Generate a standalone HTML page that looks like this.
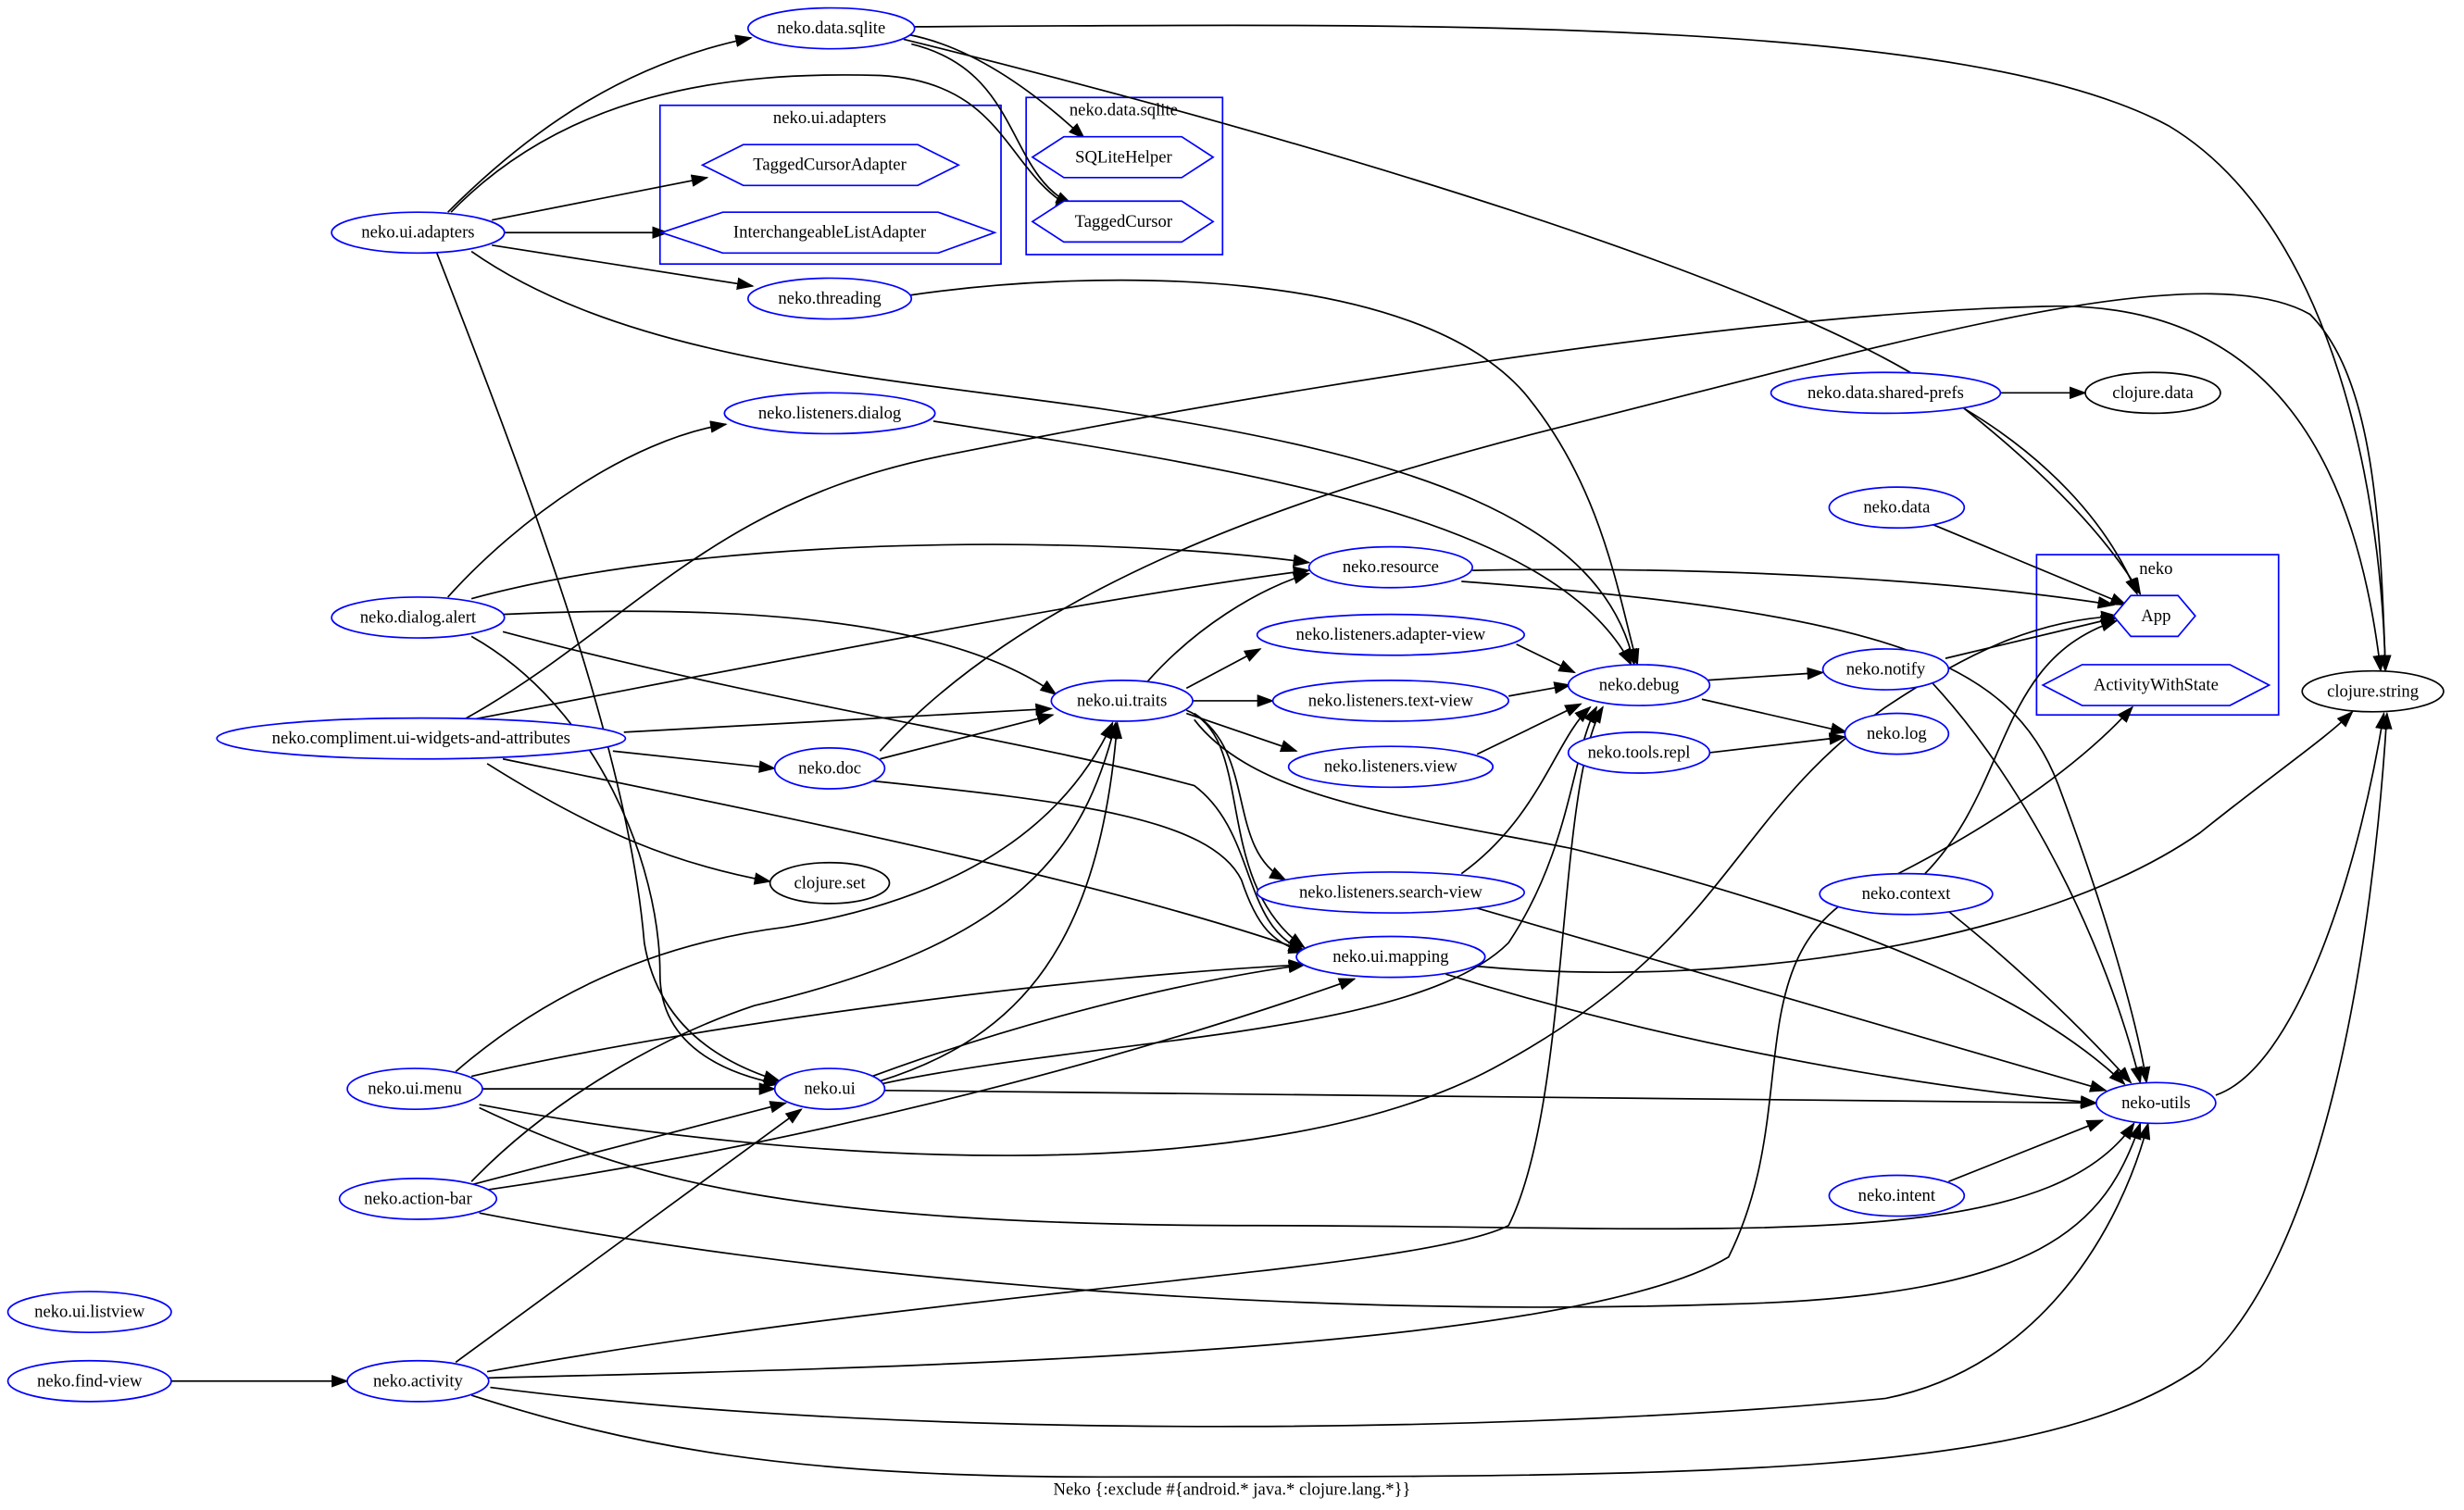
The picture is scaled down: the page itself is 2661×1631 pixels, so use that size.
<!DOCTYPE html>
<html><head><meta charset="utf-8"><style>
html,body{margin:0;padding:0;background:#fff;}
svg{display:block;}
text{font-family:"Liberation Serif",serif;font-size:11px;text-anchor:middle;dominant-baseline:central;fill:#000;}
.n{fill:#fff;stroke:#00f;stroke-width:1;}
.b{fill:#fff;stroke:#000;stroke-width:1;}
.c{fill:none;stroke:#00f;stroke-width:1;}
.e{fill:none;stroke:#000;stroke-width:1;marker-end:url(#a);}
</style></head><body>
<svg width="2661" height="1631" viewBox="0 0 1568 961" xmlns="http://www.w3.org/2000/svg">
<defs><marker id="a" markerUnits="userSpaceOnUse" markerWidth="11" markerHeight="8" refX="10" refY="4" orient="auto"><path d="M0,0 L11,4 L0,8 z" fill="#000"/></marker></defs>
<rect width="1568" height="961" fill="#fff"/>
<!-- clusters -->
<rect class="c" x="420" y="67" width="217" height="101"/><text x="528" y="75">neko.ui.adapters</text>
<rect class="c" x="653" y="62" width="125" height="100"/><text x="715" y="70">neko.data.sqlite</text>
<rect class="c" x="1296" y="353" width="154" height="102"/><text x="1372" y="362">neko</text>
<!-- edges -->
<path class="e" d="M582,17 C900,15 1250,10 1380,80 C1480,140 1515,300 1518,427"/>
<path class="e" d="M575,25 C800,80 1150,180 1250,260 C1300,300 1340,340 1362,378"/>
<path class="e" d="M578,22 C620,30 660,60 690,88"/>
<path class="e" d="M580,28 C650,45 640,110 682,130"/>
<path class="e" d="M285,135 C340,80 400,40 478,24"/>
<path class="e" d="M287,135 C360,60 460,45 560,48 C640,52 640,110 682,132"/>
<path class="e" d="M313,140 L450,113"/>
<path class="e" d="M320,148 L425,148"/>
<path class="e" d="M313,156 L479,182"/>
<path class="e" d="M300,160 C400,230 560,240 700,260 C900,290 1020,330 1040,423"/>
<path class="e" d="M278,161 C340,320 400,480 410,600 C420,660 470,680 496,688"/>
<path class="e" d="M578,188 C700,170 900,170 970,250 C1020,310 1030,380 1042,423"/>
<path class="e" d="M594,268 C800,300 990,330 1038,423"/>
<path class="e" d="M1273,250 L1327,250"/>
<path class="e" d="M1250,260 C1300,290 1340,330 1360,378"/>
<path class="e" d="M1228,333 L1353,385"/>
<path class="e" d="M285,380 C330,330 400,280 462,270"/>
<path class="e" d="M300,381 C450,340 700,340 833,358"/>
<path class="e" d="M320,391 C450,385 600,390 672,442"/>
<path class="e" d="M320,402 C500,450 650,470 760,500 C800,530 790,590 830,605"/>
<path class="e" d="M300,405 C380,450 420,550 420,620 C420,670 470,685 496,690"/>
<path class="e" d="M295,458 C400,400 450,320 600,290 C800,250 1100,200 1300,195 C1450,190 1500,300 1515,427"/>
<path class="e" d="M300,458 C500,420 700,380 833,363"/>
<path class="e" d="M397,466 L669,451"/>
<path class="e" d="M390,478 L493,489"/>
<path class="e" d="M310,486 C380,530 430,550 490,561"/>
<path class="e" d="M320,483 C500,520 700,560 830,605"/>
<path class="e" d="M560,483 L670,455"/>
<path class="e" d="M560,478 C650,380 800,320 1000,270 C1200,220 1400,160 1470,200 C1510,240 1515,330 1518,427"/>
<path class="e" d="M555,497 C680,510 770,520 790,560 C800,590 810,600 830,606"/>
<path class="e" d="M730,434 C760,400 800,375 833,365"/>
<path class="e" d="M755,438 L802,413"/>
<path class="e" d="M759,446 L810,446"/>
<path class="e" d="M755,454 L825,478"/>
<path class="e" d="M760,454 C800,480 780,540 818,560"/>
<path class="e" d="M755,452 C800,470 770,560 830,603"/>
<path class="e" d="M760,458 C800,510 900,520 1000,540 C1200,590 1300,640 1352,690"/>
<path class="e" d="M937,363 C1100,360 1250,370 1345,385"/>
<path class="e" d="M930,370 C1200,390 1280,420 1310,500 C1340,580 1360,650 1366,689"/>
<path class="e" d="M965,410 L1002,428"/>
<path class="e" d="M960,443 L999,436"/>
<path class="e" d="M940,480 L1006,448"/>
<path class="e" d="M930,556 C980,520 990,470 1012,450"/>
<path class="e" d="M940,578 L1340,694"/>
<path class="e" d="M1085,433 L1160,428"/>
<path class="e" d="M1083,445 L1175,466"/>
<path class="e" d="M1088,479 L1174,469"/>
<path class="e" d="M1238,419 L1347,393"/>
<path class="e" d="M1230,435 C1290,500 1340,600 1362,689"/>
<path class="e" d="M1225,556 C1280,500 1270,420 1347,395"/>
<path class="e" d="M1240,580 C1290,620 1330,660 1356,689"/>
<path class="e" d="M940,615 C1100,630 1300,600 1400,530 C1450,490 1480,470 1497,453"/>
<path class="e" d="M920,620 C1050,660 1200,690 1334,702"/>
<path class="e" d="M1410,697 C1460,680 1500,560 1517,454"/>
<path class="e" d="M1240,752 L1338,713"/>
<path class="e" d="M290,682 C350,630 420,600 500,590 C620,570 680,520 708,460"/>
<path class="e" d="M300,685 C450,650 700,620 830,614"/>
<path class="e" d="M307,693 L493,693"/>
<path class="e" d="M305,703 C500,740 800,760 950,680 C1100,600 1100,520 1200,450 C1260,410 1300,395 1347,392"/>
<path class="e" d="M305,705 C400,750 500,780 800,780 C1100,780 1300,800 1358,715"/>
<path class="e" d="M560,688 C650,660 700,600 711,460"/>
<path class="e" d="M555,685 C650,650 750,625 830,614"/>
<path class="e" d="M563,694 L1334,702"/>
<path class="e" d="M560,690 C700,660 900,660 960,600 C1000,540 1000,480 1016,450"/>
<path class="e" d="M300,754 L500,702"/>
<path class="e" d="M300,752 C350,700 420,660 480,640 C650,600 690,540 710,460"/>
<path class="e" d="M305,758 C500,730 700,680 862,623"/>
<path class="e" d="M305,772 C500,810 800,840 1100,830 C1300,825 1340,780 1362,715"/>
<path class="e" d="M109,879 L221,879"/>
<path class="e" d="M290,867 L510,706"/>
<path class="e" d="M310,873 C600,820 900,810 960,780 C1000,700 990,500 1020,450"/>
<path class="e" d="M310,877 C600,870 1000,860 1100,800 C1150,700 1100,600 1200,560 C1280,520 1330,480 1357,450"/>
<path class="e" d="M312,883 C600,920 1000,910 1200,890 C1300,870 1350,780 1367,715"/>
<path class="e" d="M300,888 C400,920 500,940 700,940 C1100,940 1300,940 1400,870 C1480,800 1510,600 1519,454"/>
<!-- hexagons -->
<polygon class="n" points="447,105 473,92 584,92 610,105 584,118 473,118"/><text x="528" y="105">TaggedCursorAdapter</text>
<polygon class="n" points="421,148 460,135 597,135 633,148 597,161 460,161"/><text x="528" y="148">InterchangeableListAdapter</text>
<polygon class="n" points="657,100 677,87 752,87 772,100 752,113 677,113"/><text x="715" y="100">SQLiteHelper</text>
<polygon class="n" points="657,141 677,128 752,128 772,141 752,154 677,154"/><text x="715" y="141">TaggedCursor</text>
<polygon class="n" points="1345,392 1356,379 1386,379 1397,392 1386,405 1356,405"/><text x="1372" y="392">App</text>
<polygon class="n" points="1300,436 1325,423 1419,423 1444,436 1419,449 1325,449"/><text x="1372" y="436">ActivityWithState</text>
<!-- nodes -->
<ellipse class="n" cx="529" cy="18" rx="53" ry="13"/><text x="529" y="18">neko.data.sqlite</text>
<ellipse class="n" cx="266" cy="148" rx="55" ry="13"/><text x="266" y="148">neko.ui.adapters</text>
<ellipse class="n" cx="528" cy="190" rx="52" ry="13"/><text x="528" y="190">neko.threading</text>
<ellipse class="n" cx="528" cy="263" rx="67" ry="13"/><text x="528" y="263">neko.listeners.dialog</text>
<ellipse class="n" cx="1200" cy="250" rx="73" ry="13"/><text x="1200" y="250">neko.data.shared-prefs</text>
<ellipse class="b" cx="1370" cy="250" rx="43" ry="13"/><text x="1370" y="250">clojure.data</text>
<ellipse class="n" cx="1207" cy="323" rx="43" ry="13"/><text x="1207" y="323">neko.data</text>
<ellipse class="b" cx="1510" cy="440" rx="45" ry="13"/><text x="1510" y="440">clojure.string</text>
<ellipse class="n" cx="885" cy="361" rx="52" ry="13"/><text x="885" y="361">neko.resource</text>
<ellipse class="n" cx="266" cy="393" rx="55" ry="13"/><text x="266" y="393">neko.dialog.alert</text>
<ellipse class="n" cx="885" cy="404" rx="85" ry="13"/><text x="885" y="404">neko.listeners.adapter-view</text>
<ellipse class="n" cx="714" cy="446" rx="45" ry="13"/><text x="714" y="446">neko.ui.traits</text>
<ellipse class="n" cx="885" cy="446" rx="75" ry="13"/><text x="885" y="446">neko.listeners.text-view</text>
<ellipse class="n" cx="1043" cy="436" rx="45" ry="13"/><text x="1043" y="436">neko.debug</text>
<ellipse class="n" cx="1200" cy="426" rx="40" ry="13"/><text x="1200" y="426">neko.notify</text>
<ellipse class="n" cx="1207" cy="467" rx="33" ry="13"/><text x="1207" y="467">neko.log</text>
<ellipse class="n" cx="1043" cy="479" rx="45" ry="13"/><text x="1043" y="479">neko.tools.repl</text>
<ellipse class="n" cx="268" cy="470" rx="130" ry="13"/><text x="268" y="470">neko.compliment.ui-widgets-and-attributes</text>
<ellipse class="n" cx="528" cy="489" rx="35" ry="13"/><text x="528" y="489">neko.doc</text>
<ellipse class="n" cx="885" cy="488" rx="65" ry="13"/><text x="885" y="488">neko.listeners.view</text>
<ellipse class="b" cx="528" cy="562" rx="38" ry="13"/><text x="528" y="562">clojure.set</text>
<ellipse class="n" cx="885" cy="568" rx="85" ry="13"/><text x="885" y="568">neko.listeners.search-view</text>
<ellipse class="n" cx="1213" cy="569" rx="55" ry="13"/><text x="1213" y="569">neko.context</text>
<ellipse class="n" cx="885" cy="609" rx="60" ry="13"/><text x="885" y="609">neko.ui.mapping</text>
<ellipse class="n" cx="264" cy="693" rx="43" ry="13"/><text x="264" y="693">neko.ui.menu</text>
<ellipse class="n" cx="528" cy="693" rx="35" ry="13"/><text x="528" y="693">neko.ui</text>
<ellipse class="n" cx="1372" cy="702" rx="38" ry="13"/><text x="1372" y="702">neko-utils</text>
<ellipse class="n" cx="266" cy="763" rx="50" ry="13"/><text x="266" y="763">neko.action-bar</text>
<ellipse class="n" cx="1207" cy="761" rx="43" ry="13"/><text x="1207" y="761">neko.intent</text>
<ellipse class="n" cx="57" cy="835" rx="52" ry="13"/><text x="57" y="835">neko.ui.listview</text>
<ellipse class="n" cx="57" cy="879" rx="52" ry="13"/><text x="57" y="879">neko.find-view</text>
<ellipse class="n" cx="266" cy="879" rx="45" ry="13"/><text x="266" y="879">neko.activity</text>
<text x="784" y="948">Neko {:exclude #{android.* java.* clojure.lang.*}}</text>
</svg>
</body></html>
